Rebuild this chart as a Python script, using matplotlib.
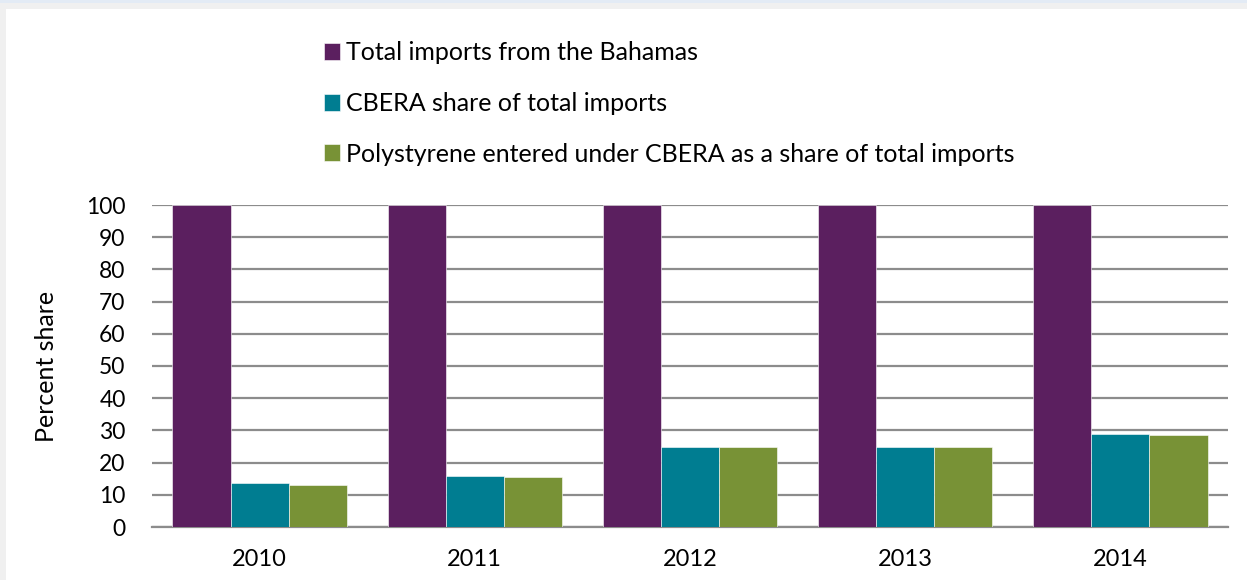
import numpy as np
import matplotlib.pyplot as plt
from matplotlib.patches import Rectangle

years = ["2010", "2011", "2012", "2013", "2014"]
total_imports = [100, 100, 100, 100, 100]
cbera_share = [13.8, 15.8, 25.0, 25.0, 29.0]
polystyrene_share = [13.1, 15.6, 24.7, 24.7, 28.6]

series_names = [
    "Total imports from the Bahamas",
    "CBERA share of total imports",
    "Polystyrene entered under CBERA as a share of total imports",
]
colors = ["#5b1f5f", "#007d91", "#789236"]

plt.rcParams['font.family'] = ['Lato', 'DejaVu Sans']

fig = plt.figure(figsize=(12.47, 5.8), dpi=100)
W, H = 1247, 580

# page frame look
fig.patches.append(Rectangle((0, 1 - 3 / H), 1, 3 / H, transform=fig.transFigure,
                             facecolor="#e3ebf5", edgecolor="none", zorder=-2))
fig.patches.append(Rectangle((0, 1 - 9 / H), 1, 6 / H, transform=fig.transFigure,
                             facecolor="#f0f0f0", edgecolor="none", zorder=-2))
fig.patches.append(Rectangle((0, 0), 6 / W, 1 - 9 / H, transform=fig.transFigure,
                             facecolor="#f0f0f0", edgecolor="none", zorder=-2))

ax = fig.add_axes([152 / W, (H - 527) / H, (1228 - 152) / W, (527 - 205) / H])

x = np.arange(len(years))
bw = 0.27
data = [total_imports, cbera_share, polystyrene_share]
for i, (vals, c, name) in enumerate(zip(data, colors, series_names)):
    ax.bar(x + (i - 1) * bw, vals, bw, color=c, edgecolor="white", linewidth=0.4,
           label=name, zorder=3)

ax.set_xlim(-0.5, len(years) - 0.5)
ax.set_ylim(0, 100)
ax.set_yticks(range(0, 101, 10))
ax.set_xticks(x)
ax.set_xticklabels(years)
ax.tick_params(axis="both", length=0, colors="black")
ax.tick_params(axis="y", pad=19, labelsize=16.5)
ax.tick_params(axis="x", pad=16, labelsize=17)
ax.yaxis.grid(True, color="#8c8c8c", linewidth=1.6, zorder=0)
for s in ["top", "right", "left"]:
    ax.spines[s].set_visible(False)
ax.spines["bottom"].set_color("#8c8c8c")
ax.spines["bottom"].set_linewidth(1.6)
ax.set_ylabel("Percent share", fontsize=18, labelpad=20)

handles, labels = ax.get_legend_handles_labels()
fig.legend(handles, labels, loc="upper left", bbox_to_anchor=(311 / W, 1 - 29 / H),
           frameon=False, fontsize=18, handlelength=0.65, handleheight=0.65,
           handletextpad=0.25, labelspacing=1.1, borderpad=0)

fig.savefig("out.png", dpi=100)
